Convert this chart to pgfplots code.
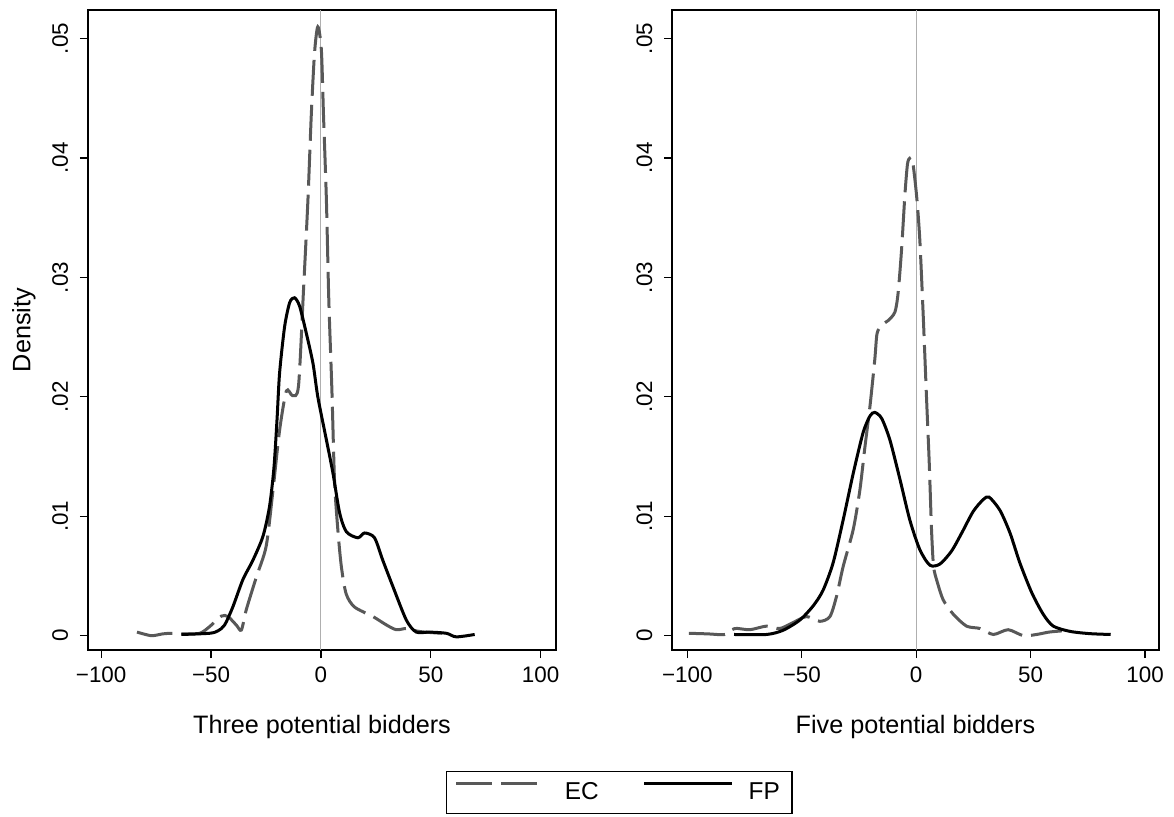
\documentclass[border=0pt]{standalone}
\usepackage{pgfplots}
\pgfplotsset{compat=1.18}
\usepackage{fontspec}
\setmainfont{Liberation Sans}
\definecolor{ecgray}{RGB}{88,88,88}
\definecolor{zerogray}{RGB}{175,175,175}
\pgfplotsset{
  dens/.style={
    scale only axis, height=320pt,
    ymin=-0.0012, ymax=0.0524,
    scaled y ticks=false, scaled x ticks=false,
    xtick={-100,-50,0,50,100}, xticklabels={−100,−50,0,50,100},
    ytick={0,0.01,0.02,0.03,0.04,0.05}, yticklabels={0,.01,.02,.03,.04,.05},
    tick pos=left, tick align=outside, major tick length=4pt,
    tick style={black, line width=0.6pt},
    axis line style={line width=0.6pt},
    ticklabel style={font=\fontsize{11.2}{13}\selectfont},
    xticklabel style={anchor=north, inner sep=0pt, yshift=-4pt},
    yticklabel style={xshift=-6pt, rotate=90, anchor=base, inner sep=0pt},
    xlabel style={at={(axis description cs:0.5,-0.1297)}, anchor=base, font=\fontsize{12.6}{14}\selectfont},
    ylabel style={at={(axis description cs:-0.1229,0.5)}, anchor=base, font=\fontsize{12.6}{14}\selectfont},
    clip=false,
  },
  ec/.style={ecgray, line width=1.5pt, dash pattern=on 18pt off 4.5pt, smooth, tension=0.45},
  fp/.style={black, line width=1.5pt, smooth, tension=0.45},
  ecleg/.style={legend image code/.code={\draw[##1] (0pt,4.2pt) -- (40.5pt,4.2pt); \path (46pt,4.2pt);}},
  fpleg/.style={legend image code/.code={\draw[##1] (0pt,4.2pt) -- (44pt,4.2pt);}},
}
\begin{document}
\begin{tikzpicture}
\path[use as bounding box] (0,0) rectangle (587pt,408pt);
\begin{axis}[dens, at={(44pt,83pt)}, anchor=south west, width=234pt,
  xmin=-106, xmax=107, xlabel={Three potential bidders}, ylabel={Density},
  legend columns=2,
  legend style={at={(axis description cs:1.1354,-0.2224)}, anchor=center, draw=black, line width=0.6pt,
    font=\fontsize{12.2}{14}\selectfont, inner xsep=4pt, inner ysep=3.5pt,
    /tikz/every odd column/.append style={column sep=5.5pt},
    /tikz/every even column/.append style={column sep=20pt}},
]
\addplot[zerogray, line width=0.5pt, forget plot] coordinates {(0,-0.0012) (0,0.0524)};
\addplot[ec, ecleg] coordinates {
(-83.7,0.0003) (-77.2,0.0000) (-72,0.00015) (-68.1,0.0002) (-63.5,0.00015) (-55.2,0.0002)
(-50.7,0.00075) (-45.3,0.00164) (-42.3,0.0016) (-38.5,0.00089) (-36.2,0.00047) (-34.0,0.00215)
(-29.4,0.0049) (-24.9,0.0075) (-21.8,0.0122) (-18.8,0.0172) (-15.7,0.0205) (-12.9,0.0201)
(-10.2,0.0209) (-7.9,0.0290) (-5.9,0.0365) (-4.4,0.0435) (-2.9,0.0488) (-1.4,0.0510)
(0.2,0.0491) (1.2,0.0435) (2.5,0.0365) (3.6,0.0281) (5.0,0.0206) (6.2,0.0130) (7.7,0.0089)
(9.3,0.0058) (11.5,0.0035) (15.3,0.0024) (23.7,0.0016) (29.8,0.0009) (34.3,0.0005)
(38.9,0.0006) (43.4,0.0004) (47.2,0.0003) (55,0.0002)};
\addlegendentry{EC}
\addplot[fp, fpleg] coordinates {
(-63.5,0.0001) (-50.7,0.0002) (-46.9,0.0004) (-43.8,0.0009) (-40.1,0.0024) (-35.5,0.0047)
(-31,0.0063) (-26.4,0.0083) (-23.4,0.0108) (-21.4,0.0140) (-20.0,0.0180) (-18.8,0.0220)
(-16.5,0.0259) (-14.2,0.0279) (-12.0,0.0283) (-9.7,0.0276) (-6.6,0.0253) (-3.6,0.0228)
(-1.4,0.0200) (2.5,0.0164) (5.5,0.0136) (8.5,0.0103) (11.6,0.0087) (16.8,0.0082)
(19.9,0.0086) (24.4,0.0082) (28.2,0.0063) (32.8,0.0041) (38.9,0.0013) (43.4,0.0003)
(49.5,0.0003) (57.1,0.0002) (61.6,-0.0001) (70,0.0001)};
\addlegendentry{FP}
\end{axis}
\begin{axis}[dens, at={(336pt,83pt)}, anchor=south west, width=243.5pt,
  xmin=-106.7, xmax=106.1, xlabel={Five potential bidders}]
\addplot[zerogray, line width=0.5pt] coordinates {(0,-0.0012) (0,0.0524)};
\addplot[ec] coordinates {
(-99.3,0.0002) (-91,0.00015) (-83.6,0.0001) (-79.3,0.0006) (-72.7,0.0005) (-65.4,0.0008)
(-59.6,0.0006) (-53.8,0.0011) (-47.9,0.0016) (-42.1,0.0012) (-37.7,0.0016) (-34.8,0.0033)
(-31.9,0.0058) (-27.5,0.0089) (-24.6,0.0122) (-22.4,0.0158) (-20.2,0.0192) (-18.1,0.0231)
(-17.1,0.0253) (-15.1,0.0260) (-12.2,0.0264) (-9.3,0.0271) (-7.9,0.0287) (-6.4,0.0323)
(-4.9,0.0370) (-3.8,0.0395) (-2.8,0.0400) (-1.6,0.0398) (0.2,0.0368) (1.6,0.0331)
(3.1,0.0267) (4.5,0.0200) (5.7,0.0145) (6.7,0.0089) (7.6,0.0058) (9.2,0.0045)
(11.8,0.0030) (16.2,0.0018) (22.0,0.0008) (27.9,0.0006) (33.7,0.0001) (40.2,0.0005)
(46.8,0.0000) (52.6,0.0001) (58,0.0003) (63.6,0.0004)};
\addplot[fp] coordinates {
(-79.6,0.0001) (-65.4,0.0001) (-58.2,0.00045) (-50.9,0.0013) (-45.0,0.0025) (-40.7,0.0038)
(-36.3,0.0061) (-31.9,0.0097) (-27.5,0.0136) (-23.2,0.0170) (-20.2,0.0184) (-18.1,0.0187)
(-15.1,0.0182) (-11.5,0.0164) (-7.1,0.0131) (-2.8,0.0097) (1.6,0.0072) (6.0,0.0059)
(10.4,0.0060) (15.5,0.0071) (19.9,0.0086) (24.9,0.0104) (29.3,0.0114) (31.9,0.0116)
(36.6,0.0105) (41.0,0.0086) (45.3,0.0061) (50.5,0.0036) (55.5,0.0018) (59.9,0.0008)
(67.2,0.00036) (75.9,0.00017) (85,0.0001)};
\end{axis}
\end{tikzpicture}
\end{document}
